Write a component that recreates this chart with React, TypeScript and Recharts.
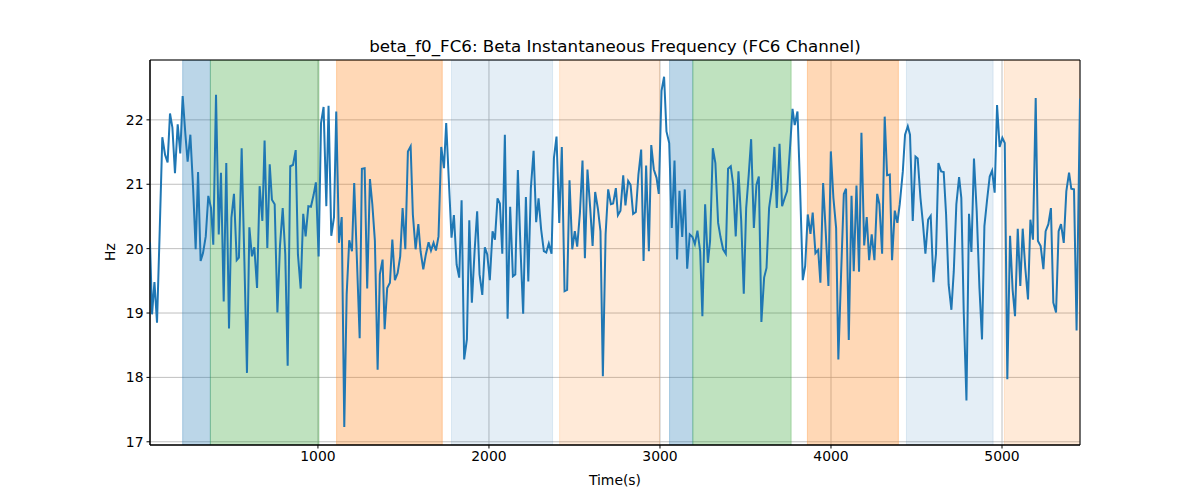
import { LineChart, Line, XAxis, YAxis, CartesianGrid, ReferenceArea } from 'recharts';

// sample times (s) and frequency (Hz)
const times = [
  18, 30, 44, 59, 75, 90, 106, 121, 135, 149, 164, 180, 195, 209, 225, 238, 254, 270, 285, 299,
  314, 328, 344, 359, 375, 388, 404, 420, 433, 449, 464, 480, 494, 509, 525, 538, 554, 570, 585, 599,
  614, 628, 644, 659, 675, 688, 704, 718, 731, 747, 763, 778, 794, 809, 823, 838, 854, 870, 883, 899,
  914, 928, 944, 959, 975, 988, 1004, 1018, 1033, 1049, 1062, 1078, 1094, 1107, 1123, 1139, 1154, 1168, 1183, 1199,
  1212, 1228, 1244, 1257, 1273, 1288, 1304, 1318, 1333, 1349, 1362, 1378, 1390, 1405, 1421, 1435, 1450, 1466, 1481, 1495,
  1511, 1526, 1542, 1555, 1571, 1587, 1600, 1616, 1631, 1647, 1661, 1676, 1690, 1705, 1721, 1737, 1750, 1766, 1781, 1795,
  1811, 1826, 1840, 1855, 1871, 1885, 1900, 1916, 1931, 1945, 1961, 1976, 1990, 2005, 2021, 2035, 2050, 2064, 2078, 2093,
  2109, 2124, 2140, 2154, 2169, 2185, 2200, 2216, 2230, 2245, 2261, 2276, 2290, 2305, 2321, 2335, 2350, 2366, 2380, 2395,
  2411, 2426, 2442, 2457, 2471, 2487, 2502, 2516, 2532, 2547, 2561, 2576, 2592, 2606, 2621, 2637, 2652, 2666, 2682, 2697,
  2713, 2726, 2742, 2754, 2769, 2785, 2798, 2814, 2828, 2843, 2859, 2874, 2890, 2904, 2919, 2935, 2949, 2964, 2980, 2993,
  3009, 3024, 3038, 3054, 3069, 3085, 3100, 3114, 3130, 3145, 3159, 3174, 3190, 3204, 3219, 3235, 3248, 3264, 3280, 3293,
  3309, 3324, 3340, 3354, 3369, 3385, 3398, 3414, 3428, 3443, 3459, 3475, 3490, 3504, 3519, 3533, 3549, 3564, 3578, 3593,
  3609, 3623, 3638, 3654, 3669, 3683, 3699, 3714, 3730, 3743, 3759, 3775, 3788, 3804, 3819, 3835, 3849, 3864, 3880, 3893,
  3909, 3925, 3938, 3954, 3969, 3985, 3999, 4014, 4030, 4043, 4059, 4075, 4088, 4104, 4120, 4133, 4149, 4164, 4178, 4194,
  4209, 4223, 4238, 4254, 4270, 4283, 4299, 4314, 4328, 4344, 4357, 4373, 4388, 4402, 4420, 4433, 4449, 4462, 4478, 4494,
  4507, 4523, 4538, 4552, 4568, 4583, 4599, 4614, 4628, 4644, 4659, 4673, 4688, 4704, 4718, 4733, 4749, 4762, 4776, 4792,
  4807, 4821, 4836, 4852, 4868, 4883, 4897, 4912, 4928, 4942, 4957, 4971, 4986, 5002, 5016, 5031, 5047, 5062, 5076, 5092,
  5107, 5121, 5136, 5152, 5166, 5181, 5197, 5210, 5226, 5242, 5255, 5271, 5286, 5300, 5316, 5331, 5345, 5361, 5376, 5392,
  5405, 5421, 5436, 5456,
];

const hz = [
  20.1, 18.98, 19.48, 18.85, 20.3, 21.73, 21.46, 21.34, 22.1, 21.88, 21.17, 21.93, 21.48, 22.37, 21.77, 21.35, 21.77, 20.94, 19.99, 21.19,
  19.81, 19.93, 20.19, 20.82, 20.63, 20.06, 22.39, 20.22, 21.18, 19.18, 21.33, 18.76, 20.48, 20.85, 19.82, 19.86, 21.56, 19.8, 18.07, 20.33,
  19.88, 20.02, 19.39, 20.97, 20.43, 21.68, 20.01, 21.31, 20.76, 20.69, 19.01, 20.04, 20.63, 19.91, 18.18, 21.28, 21.3, 21.53, 19.91, 19.38,
  20.54, 20.19, 20.66, 20.65, 20.84, 21.03, 19.88, 21.95, 22.2, 20.66, 22.22, 20.2, 20.49, 22.13, 20.09, 20.49, 17.23, 19.29, 20.13, 19.96,
  21.02, 19.82, 18.61, 21.24, 21.25, 19.38, 21.08, 20.69, 20.12, 18.12, 19.6, 19.83, 18.75, 19.39, 19.47, 20.14, 19.51, 19.62, 19.88, 20.63,
  19.99, 21.51, 21.59, 20.53, 19.99, 20.38, 19.96, 19.68, 19.91, 20.1, 19.97, 20.09, 19.97, 20.19, 21.58, 21.25, 21.95, 21.02, 20.17, 20.52,
  19.75, 19.55, 20.75, 18.28, 18.59, 20.44, 19.16, 19.96, 20.58, 19.6, 19.28, 20.02, 19.91, 19.51, 20.27, 20.14, 20.78, 20.7, 19.92, 21.77,
  18.91, 20.65, 19.57, 19.6, 21.22, 19.96, 18.99, 20.8, 19.49, 20.94, 21.52, 20.41, 20.78, 20.3, 19.96, 19.94, 20.08, 19.92, 21.41, 21.74,
  20.4, 21.58, 19.34, 19.36, 21.06, 19.99, 20.27, 20.03, 20.56, 21.37, 19.85, 21.23, 20.63, 20.04, 20.88, 20.62, 20.27, 18.02, 20.22, 20.92,
  20.69, 20.7, 20.94, 20.52, 20.59, 21.14, 20.67, 21.05, 20.99, 20.54, 20.57, 21.15, 21.54, 19.81, 21.29, 19.96, 21.61, 21.23, 21.1, 20.85,
  22.45, 22.67, 21.82, 21.64, 20.32, 21.37, 19.83, 20.9, 20.18, 20.92, 19.69, 20.22, 20.18, 20.07, 20.28, 19.96, 18.95, 20.69, 19.78, 20.12,
  21.56, 21.33, 20.4, 20.18, 19.99, 19.92, 21.24, 21.28, 20.99, 20.19, 21.2, 20.43, 19.3, 20.63, 21.15, 21.7, 20.32, 20.99, 21.12, 18.86,
  19.55, 19.7, 20.63, 20.94, 21.58, 20.63, 21.63, 20.66, 20.79, 20.89, 21.51, 22.17, 21.92, 22.13, 20.97, 19.51, 19.73, 20.53, 20.23, 20.56,
  19.93, 19.98, 19.47, 21.02, 20.27, 19.42, 21.51, 20.79, 20.32, 18.28, 19.6, 20.85, 20.93, 18.58, 20.82, 19.65, 20.98, 19.64, 21.8, 20.05,
  20.49, 19.82, 20.22, 19.82, 20.85, 20.69, 19.92, 22.05, 21.14, 21.15, 19.82, 20.59, 20.4, 20.69, 21.2, 21.77, 21.9, 21.77, 20.43, 21.43,
  21.4, 20.79, 20.38, 19.92, 20.45, 20.51, 19.48, 19.92, 21.33, 21.2, 21.19, 20.53, 19.44, 19.05, 19.65, 20.69, 21.11, 20.79, 19.03, 17.64,
  20.54, 19.95, 21.4, 20.58, 19.39, 18.59, 20.35, 20.74, 21.12, 21.21, 20.87, 22.23, 21.58, 21.72, 21.64, 17.97, 20.2, 19.36, 18.95, 20.31,
  19.42, 20.31, 19.7, 19.21, 20.45, 20.14, 22.34, 20.12, 20.04, 19.68, 20.27, 20.38, 20.63, 19.16, 19.01, 20.27, 20.38, 20.09, 20.89, 21.18,
  20.93, 20.92, 18.73, 22.33,
];

// shaded segments
const spanStart = [209, 371, 1109, 1781, 2413, 3056, 3192, 3862, 4441, 5014];
const spanEnd = [371, 1006, 1727, 2372, 2997, 3192, 3767, 4394, 4948, 5500];
const spanKind = ['blue', 'green', 'orange', 'blueLight', 'orangeLight', 'blue', 'green', 'orange', 'blueLight', 'orangeLight'];

const xTicks = [1000, 2000, 3000, 4000, 5000];
const yTicks = [17, 18, 19, 20, 21, 22];

const spanStyle: Record<string, { color: string; opacity: number }> = {
  blue: { color: '#1f77b4', opacity: 0.3 },
  green: { color: '#2ca02c', opacity: 0.3 },
  orange: { color: '#ff7f0e', opacity: 0.3 },
  blueLight: { color: '#1f77b4', opacity: 0.12 },
  orangeLight: { color: '#ff7f0e', opacity: 0.16 },
};

const data = times.map((t, i) => ({ t, hz: hz[i] }));

const font = 'DejaVu Sans, sans-serif';
const tickStyle = { fontSize: 13.9, fill: '#000', fontFamily: font };

export default function App() {
  return (
    <div style={{ position: 'absolute', left: 0, top: 0, width: 1200, height: 500, background: '#fff', fontFamily: font }}>
      <LineChart width={1200} height={500} data={data} margin={{ top: 60, right: 120, bottom: 25, left: 100 }}>
        <CartesianGrid stroke="#b0b0b0" strokeWidth={0.8} />
        {spanStart.map((s, i) => {
          const st = spanStyle[spanKind[i]];
          return (
            <ReferenceArea
              key={i}
              x1={s}
              x2={spanEnd[i]}
              fill={st.color}
              fillOpacity={st.opacity}
              stroke={st.color}
              strokeOpacity={st.opacity}
              ifOverflow="hidden"
            />
          );
        })}
        <XAxis
          type="number"
          dataKey="t"
          domain={[18, 5456]}
          ticks={xTicks}
          allowDataOverflow
          height={30}
          tick={tickStyle}
          tickSize={3.5}
          tickMargin={3}
          stroke="#000"
        />
        <YAxis
          type="number"
          domain={[16.95, 22.93]}
          ticks={yTicks}
          allowDataOverflow
          width={50}
          tick={tickStyle}
          tickSize={3.5}
          tickMargin={3}
          stroke="#000"
        />
        <Line
          type="linear"
          dataKey="hz"
          stroke="#1f77b4"
          strokeWidth={2}
          dot={false}
          isAnimationActive={false}
        />
        <ReferenceArea x1={18} x2={5456} y1={16.95} y2={22.93} fill="none" stroke="#000" strokeWidth={1} />
      </LineChart>
      <div style={{ position: 'absolute', left: 150, top: 35, width: 930, textAlign: 'center', fontSize: 16.7, lineHeight: '22px', color: '#000' }}>
        beta_f0_FC6: Beta Instantaneous Frequency (FC6 Channel)
      </div>
      <div style={{ position: 'absolute', left: 150, top: 471, width: 930, textAlign: 'center', fontSize: 13.9, lineHeight: '18px', color: '#000' }}>
        Time(s)
      </div>
      <div
        style={{
          position: 'absolute',
          left: 80,
          top: 243,
          width: 60,
          textAlign: 'center',
          fontSize: 13.9,
          lineHeight: '18px',
          color: '#000',
          transform: 'rotate(-90deg)',
          transformOrigin: '30px 9px',
        }}
      >
        Hz
      </div>
    </div>
  );
}
